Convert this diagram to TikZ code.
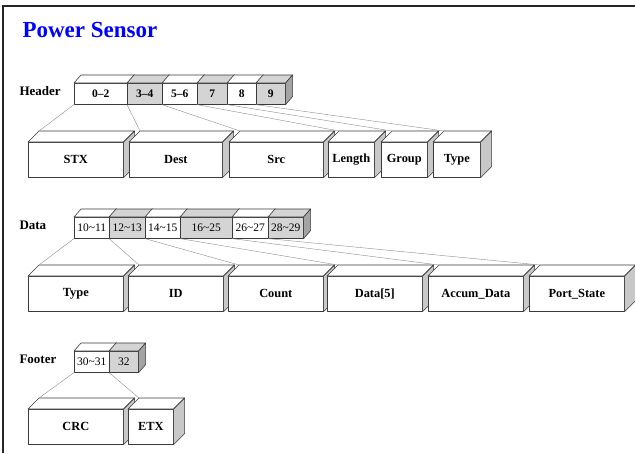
\documentclass[tikz,border=0pt]{standalone}
\usepackage{fontspec}
\setmainfont{Liberation Serif}
\usetikzlibrary{calc}

\definecolor{cellgray}{HTML}{D4D4D4}
\definecolor{sidegray}{HTML}{A4A4A4}
\definecolor{blockside}{HTML}{C8C8C8}
\definecolor{edgecol}{HTML}{3A3A3A}
\definecolor{linkcol}{HTML}{8C8C8C}

% #1 style, #2 name, #3 front corner, #4 width, #5 fill, #6 side fill, #7 depth, #8 text
\newcommand{\slab}[8]{%
  \node[#1, fill=#5, minimum width=#4pt] (#2) at (#3) {#8};
  \draw[faceline, fill=#5] (#2.north west) -- ++(#7) -- ($(#2.north east)+(#7)$) -- (#2.north east) -- cycle;
  \draw[faceline, fill=#6] (#2.north east) -- ++(#7) -- ($(#2.south east)+(#7)$) -- (#2.south east) -- cycle;
  \coordinate (#2-top) at ($(#2.north west)+(#7)$);
}

\begin{document}
\begin{tikzpicture}[x=1pt,y=-1pt,
  faceline/.style={draw=edgecol,line width=0.6pt,line join=round},
  hcell/.style={faceline,anchor=north west,minimum height=21pt,inner sep=0pt,
    font=\fontsize{11.5}{13}\selectfont\bfseries},
  cell/.style={hcell,font=\fontsize{11.5}{13}\selectfont},
  block/.style={faceline,anchor=north west,minimum height=35pt,inner sep=0pt,
    font=\fontsize{12.4}{14}\selectfont\bfseries},
  rowlabel/.style={anchor=west,font=\fontsize{13}{15}\selectfont\bfseries},
  link/.style={draw=linkcol,line width=0.4pt}]
\useasboundingbox (0,0) rectangle (635,453);
\draw[line width=1.3pt,black!85] (3,453) -- (3,6) -- (640,6);

\node[anchor=base west,text=blue,font=\fontsize{23}{27}\selectfont\bfseries] (title) at (19,37) {Power Sensor};

% header
\node[rowlabel] (hdr) at (16,91.5) {Header};
\foreach \n/\x/\w/\f/\t in {h1/74/53/white/0--2, h2/127/35/cellgray/3--4, h3/162/35/white/5--6,
    h4/197/30/cellgray/7, h5/227/29/white/8, h6/256/29/cellgray/9}
  \slab{hcell}{\n}{\x,83}{\w}{\f}{sidegray}{7,-8}{\t};
\foreach \n/\x/\w/\t in {hb1/28/95/STX, hb2/129/93/Dest, hb3/229/94/Src,
    hb4/328/46/Length, hb5/381/46/Group, hb6/433/47/Type}
  \slab{block}{\n}{\x,142}{\w}{white}{blockside}{11,-11}{\t};
\foreach \i in {1,...,6}
  \draw[link] (h\i.south west) -- (hb\i-top);

% data
\node[rowlabel] (dat) at (16,225) {Data};
\foreach \n/\x/\w/\f/\t in {d1/74/35/white/10\textasciitilde11, d2/109/36/cellgray/12\textasciitilde13,
    d3/145/35/white/14\textasciitilde15, d4/180/52/cellgray/16\textasciitilde25,
    d5/232/36/white/26\textasciitilde27, d6/268/35/cellgray/28\textasciitilde29}
  \slab{cell}{\n}{\x,217}{\w}{\f}{sidegray}{7,-8}{\t};
\foreach \n/\x/\t in {db1/28/Type, db2/128/ID, db3/228/Count,
    db4/327/Data[5], db5/428/Accum\_Data, db6/529/Port\_State}
  \slab{block}{\n}{\x,276}{95}{white}{blockside}{11,-11}{\t};
\foreach \i in {1,...,6}
  \draw[link] (d\i.south west) -- (db\i-top);

% footer
\node[rowlabel] (ftr) at (16,359.5) {Footer};
\slab{cell}{f1}{74,351}{35}{white}{sidegray}{7,-8}{30\textasciitilde31}
\slab{cell}{f2}{109,351}{29}{cellgray}{sidegray}{7,-8}{32}
\slab{block}{fb1}{28,409}{95}{white}{blockside}{11,-11}{CRC}
\slab{block}{fb2}{128,409}{45}{white}{blockside}{11,-11}{ETX}
\draw[link] (f1.south west) -- (fb1-top);
\draw[link] (f2.south west) -- (fb2-top);
\end{tikzpicture}
\end{document}
